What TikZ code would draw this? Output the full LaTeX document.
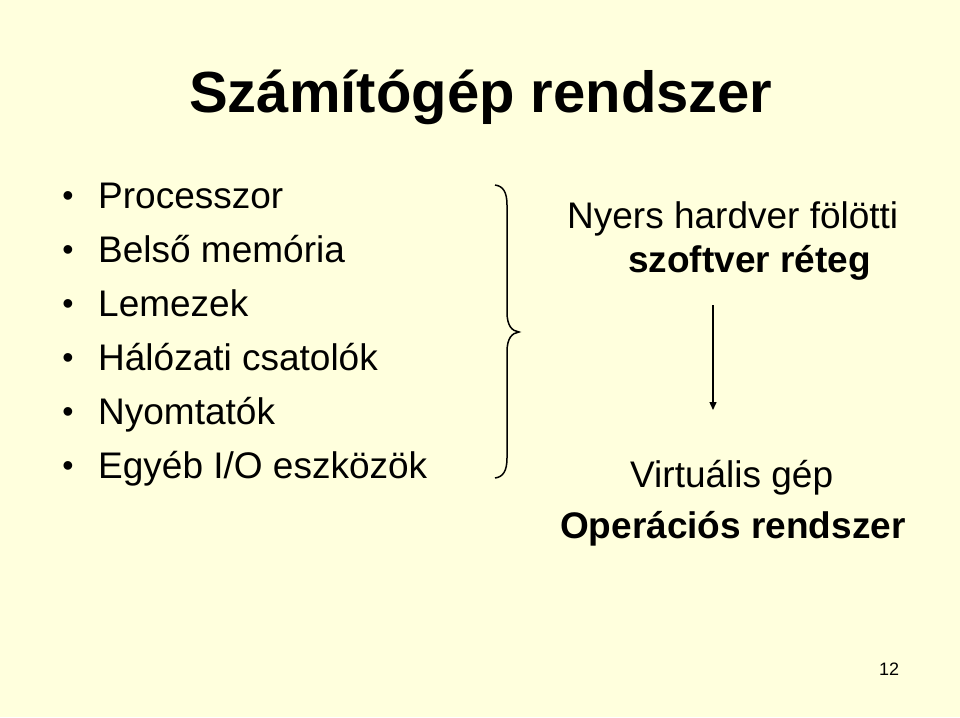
\documentclass[tikz,border=0pt]{standalone}
\usepackage{fontspec}
\setmainfont{Liberation Sans}
\usetikzlibrary{arrows.meta}
\definecolor{bg}{HTML}{FFFFDD}
\begin{document}
\begin{tikzpicture}[x=1pt,y=-1pt,
  txt/.style={anchor=base west,inner sep=0pt,font=\fontsize{37}{40}\selectfont},
  bul/.style={anchor=base,inner sep=0pt,font=\fontsize{32}{34}\selectfont},
  btxt/.style={anchor=base west,inner sep=0pt,font=\fontsize{37}{40}\selectfont\bfseries}]
\fill[bg] (0,0) rectangle (960,717);
\useasboundingbox (0,0) rectangle (960,717);
\node[anchor=base west,inner sep=0pt,font=\fontsize{58}{64}\selectfont\bfseries] (title) at (189,112) {Számítógép rendszer};
\foreach \t [count=\i] in {Processzor,Belső memória,Lemezek,Hálózati csatolók,Nyomtatók,Egyéb I/O eszközök}{
  \node[bul] (b\i) at (68,{152+54*\i}) {•};
  \node[txt] (t\i) at (98,{154+54*\i}) {\t};
}
\draw[line width=1.5pt] (495,185) .. controls (503,186) and (507,192) .. (507,205)
  -- (507,312) .. controls (507,326) and (512,331) .. (519,332)
  .. controls (512,333) and (507,338) .. (507,352)
  -- (507,458) .. controls (507,471) and (503,477) .. (495,478);
\node[txt] (n1) at (567,228) {Nyers hardver fölötti};
\node[btxt] (n2) at (628,272) {szoftver réteg};
\coordinate (a1) at (713,305);
\coordinate (a2) at (713,410);
\draw[line width=1.4pt,-{Triangle[length=8pt,width=7pt]}] (a1) -- (a2);
\node[txt] (v) at (630,487) {Virtuális gép};
\node[btxt] (os) at (560,538) {Operációs rendszer};
\node[anchor=base west,inner sep=0pt,font=\fontsize{18}{20}\selectfont] (pg) at (879,675) {12};
\end{tikzpicture}
\end{document}
